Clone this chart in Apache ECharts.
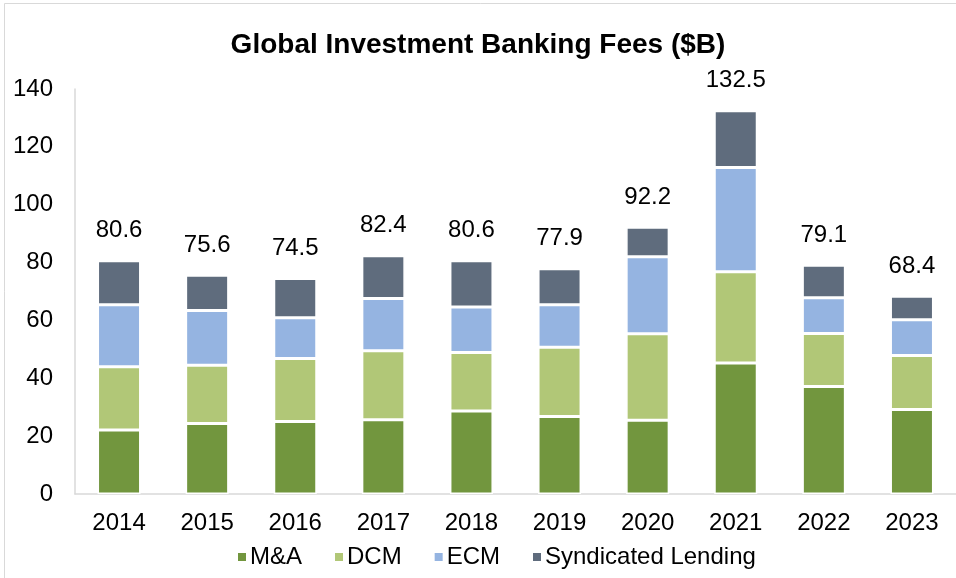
<!DOCTYPE html>
<html>
<head>
<meta charset="utf-8">
<script src="https://cdn.jsdelivr.net/npm/echarts@6/dist/echarts.min.js"></script>
<style>
html,body{margin:0;padding:0;background:#fff;}
#chart{width:956px;height:578px;}
</style>
</head>
<body>
<div id="chart"></div>
<script>
const years = ['2014','2015','2016','2017','2018','2019','2020','2021','2022','2023'];
const mna = [22.1, 24.4, 25.1, 25.7, 28.7, 26.8, 25.5, 45.3, 37.2, 29.2];
const dcm = [21.9, 20.1, 21.7, 23.8, 20.2, 23.9, 29.9, 31.5, 18.3, 18.7];
const ecm = [21.4, 18.9, 14.1, 18.1, 15.7, 14.7, 26.6, 36.1, 12.3, 12.3];
const synd = [15.2, 12.2, 13.6, 14.8, 16.0, 12.5, 10.2, 19.6, 11.3, 8.2];
const totals = ['80.6','75.6','74.5','82.4','80.6','77.9','92.2','132.5','79.1','68.4'];
const yTicks = [0, 20, 40, 60, 80, 100, 120, 140];

const FONT = '"Liberation Sans", Arial, sans-serif';
const chart = echarts.init(document.getElementById('chart'));

function seg(name, data, color, withLabel) {
  const s = {
    name: name,
    type: 'bar',
    stack: 'total',
    barWidth: 43,
    data: data,
    itemStyle: { color: color, borderColor: '#ffffff', borderWidth: 1.5 },
    emphasis: { disabled: true }
  };
  if (withLabel) {
    s.label = {
      show: true,
      position: 'top',
      distance: 18,
      color: '#000',
      fontFamily: FONT,
      fontSize: 24,
      formatter: p => totals[p.dataIndex]
    };
  }
  return s;
}

chart.setOption({
  animation: false,
  backgroundColor: '#ffffff',
  title: {
    text: 'Global Investment Banking Fees ($B)',
    left: 'center',
    top: 26,
    textStyle: { fontFamily: FONT, fontSize: 28, fontWeight: 'bold', color: '#000' }
  },
  graphic: [{
    type: 'rect',
    shape: { x: 4.5, y: 3.5, width: 1000, height: 1000 },
    style: { fill: 'none', stroke: '#d9d9d9', lineWidth: 1 },
    silent: true
  }],
  legend: {
    bottom: 4,
    left: 231,
    itemWidth: 10,
    itemHeight: 10,
    itemGap: 31,
    icon: 'rect',
    textStyle: { fontFamily: FONT, fontSize: 24, color: '#000', padding: [0, 0, 0, -2] },
    data: ['M&A', 'DCM', 'ECM', 'Syndicated Lending']
  },
  grid: { left: 75, right: -10, top: 89, bottom: 84 },
  xAxis: {
    type: 'category',
    data: years,
    axisLine: { lineStyle: { color: '#d9d9d9', width: 1.5 } },
    axisTick: { show: false },
    axisLabel: { color: '#000', fontFamily: FONT, fontSize: 24, margin: 17 }
  },
  yAxis: {
    type: 'value',
    min: yTicks[0],
    max: yTicks[yTicks.length - 1],
    interval: 20,
    axisLine: { show: true, lineStyle: { color: '#d9d9d9', width: 1.5 } },
    axisTick: { show: false },
    splitLine: { show: false },
    axisLabel: { color: '#000', fontFamily: FONT, fontSize: 24, margin: 22 }
  },
  series: [
    seg('M&A', mna, '#72963e', false),
    seg('DCM', dcm, '#b1c777', false),
    seg('ECM', ecm, '#95b4e1', false),
    seg('Syndicated Lending', synd, '#5f6c7d', true)
  ]
});
</script>
</body>
</html>
